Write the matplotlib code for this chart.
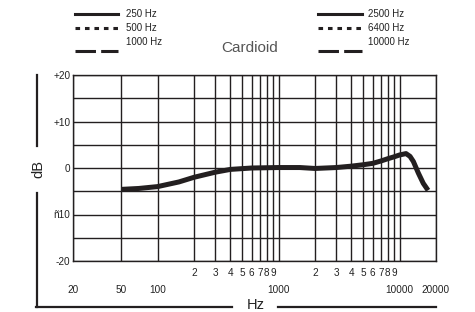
import matplotlib
matplotlib.use("Agg")
import matplotlib.pyplot as plt
from matplotlib.lines import Line2D

plt.rcParams['font.family'] = ['Liberation Sans', 'DejaVu Sans']

# frequency response (Cardioid)
freq = [50, 70, 100, 150, 200, 300, 400, 600, 1000, 1500, 2000, 3000, 4000,
        5000, 6000, 7000, 8000, 9000, 10000, 11300, 12200, 13000, 14300,
        15700, 17200]
db = [-4.6, -4.4, -4.0, -3.0, -2.0, -0.9, -0.3, 0.0, 0.1, 0.1, -0.1, 0.1, 0.4,
      0.7, 1.0, 1.5, 2.0, 2.4, 2.8, 3.1, 2.5, 1.4, -1.1,
      -3.3, -4.8]

major_x = [20, 50, 100, 1000, 10000, 20000]
major_x_labels = ['20', '50', '100', '1000', '10000', '20000']
minor_x = [200, 300, 400, 500, 600, 700, 800, 900,
           2000, 3000, 4000, 5000, 6000, 7000, 8000, 9000]
minor_x_labels = ['2', '3', '4', '5', '6', '7', '8', '9'] * 2
major_y = [-20, -10, 0, 10, 20]
major_y_labels = ['-20', 'ñ10', '0', '+10', '+20']
minor_y = [-15, -5, 5, 15]

legend_left = ['250 Hz', '500 Hz', '1000 Hz']
legend_right = ['2500 Hz', '6400 Hz', '10000 Hz']

W, H = 475, 312
fig = plt.figure(figsize=(W / 100, H / 100), dpi=100)
ax = fig.add_axes([73 / W, 1 - 261 / H, (436 - 73) / W, (261 - 75) / H])

ink = '#231f20'
ax.semilogx(freq, db, color=ink, lw=3.6, solid_capstyle='butt',
            solid_joinstyle='round', zorder=3)

ax.set_xlim(20, 20000)
ax.set_ylim(-20, 20)
ax.set_xticks(major_x)
ax.set_xticklabels(major_x_labels)
ax.set_xticks(minor_x, minor=True)
ax.set_xticklabels(minor_x_labels, minor=True)
ax.set_yticks(major_y)
ax.set_yticklabels(major_y_labels)
ax.set_yticks(minor_y, minor=True)

ax.grid(which='both', color=ink, lw=1.0)
for s in ax.spines.values():
    s.set_color(ink)
    s.set_linewidth(1.0)
ax.tick_params(which='both', length=0, labelsize=7.2, labelcolor='#222222')
ax.tick_params(axis='x', which='major', pad=17)
ax.tick_params(axis='x', which='minor', pad=5)
ax.tick_params(axis='y', pad=2)

# axis titles with bracket lines
def px_line(x0, y0, x1, y1, **kw):
    fig.add_artist(Line2D([x0 / W, x1 / W], [1 - y0 / H, 1 - y1 / H],
                          transform=fig.transFigure, color=ink, **kw))

px_line(37, 75, 37, 146, lw=1.6)
px_line(37, 193, 37, 307, lw=1.6)
px_line(36, 307, 232, 307, lw=1.6)
px_line(278, 307, 436, 307, lw=1.6)
fig.text(38 / W, 1 - 169 / H, 'dB', rotation=90, ha='center', va='center',
         fontsize=10.5, color='#222222')
fig.text(256 / W, 1 - 305 / H, 'Hz', ha='center', va='center',
         fontsize=10.5, color='#222222')

# legend block
styles = ['-', (0, (1.5, 1.6)), (0, (6.7, 1.7))]
line_y = [14, 28, 51]
label_y = [14, 28, 42]
for x0, x1, xt, labels in [(75, 118, 126, legend_left),
                           (318, 362, 368, legend_right)]:
    for ls, ly, ty, lab in zip(styles, line_y, label_y, labels):
        px_line(x0, ly, x1, ly, lw=2.2, linestyle=ls)
        fig.text(xt / W, 1 - ty / H, lab, ha='left', va='center',
                 fontsize=7, color='#222222')

fig.text(250 / W, 1 - 48 / H, 'Cardioid', ha='center', va='center',
         fontsize=11, color='#555555')

fig.savefig('out.png', dpi=100)
